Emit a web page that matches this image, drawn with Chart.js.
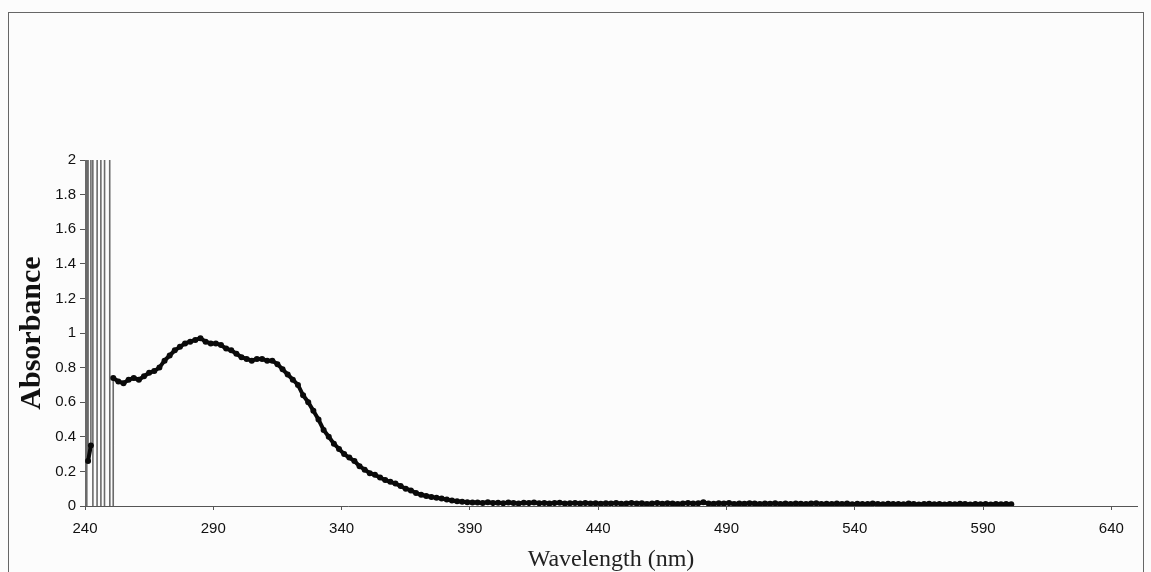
<!DOCTYPE html>
<html>
<head>
<meta charset="utf-8">
<script src="https://cdn.jsdelivr.net/npm/chart.js@4.4.1/dist/chart.umd.min.js"></script>
<style>
  html, body { margin: 0; padding: 0; background: #fcfcfc; }
  #wrap { position: relative; width: 1151px; height: 572px; overflow: hidden; }
  #frame { position: absolute; left: 8px; top: 12px; width: 1136px; height: 620px; border: 1px solid #666; box-sizing: border-box; }
  canvas { position: absolute; left: 0; top: 0; }
</style>
</head>
<body>
<div id="wrap">
  <div id="frame"></div>
  <canvas id="c" width="1151" height="572"></canvas>
</div>
<script>
// ---- data ----
// leading low-wavelength readings and off-scale (saturated) excursions
const leadX = [240.3, 240.35, 240.4, 241.0, 241.05, 241.2, 242.3, 242.35, 242.4, 243.8, 243.85, 245.6, 245.65, 246.8, 246.85, 248.4, 248.45, 250.95];
const leadY = [60, -60, -60, 60, 60, 0.26, 0.35, 60, 60, -60, -60, 60, 60, -60, -60, 60, 60, -60];
// main spectrum, sampled every 2 nm starting at 251 nm
const specStart = 251;
const specStep = 2;
const absorbance = [
  0.74, 0.72, 0.71, 0.73, 0.74, 0.73, 0.75, 0.77, 0.78, 0.80,
  0.84, 0.87, 0.90, 0.92, 0.94, 0.95, 0.96, 0.97, 0.95, 0.94,
  0.94, 0.93, 0.91, 0.90, 0.88, 0.86, 0.85, 0.84, 0.85, 0.85,
  0.84, 0.84, 0.82, 0.79, 0.76, 0.73, 0.70, 0.64, 0.60, 0.55,
  0.50, 0.44, 0.40, 0.36, 0.33, 0.30, 0.28, 0.26, 0.23, 0.21,
  0.19, 0.18, 0.165, 0.15, 0.14, 0.13, 0.115, 0.10, 0.09, 0.075,
  0.065, 0.058, 0.052, 0.047, 0.043, 0.037, 0.032, 0.028, 0.025, 0.022,
  0.02,
  0.02, 0.018, 0.021, 0.017, 0.019, 0.016, 0.02, 0.018, 0.015, 0.019,
  0.017, 0.02, 0.016, 0.018, 0.014, 0.017, 0.019, 0.015, 0.016, 0.018,
  0.014, 0.017, 0.015, 0.016, 0.013,
  0.016, 0.014, 0.017, 0.013, 0.015, 0.018, 0.014, 0.016, 0.012, 0.015,
  0.017, 0.013, 0.016, 0.014, 0.012, 0.015, 0.017, 0.014, 0.016, 0.021,
  0.015, 0.013, 0.016, 0.014, 0.017, 0.012, 0.015, 0.013, 0.016, 0.014,
  0.012, 0.015, 0.013, 0.016, 0.011, 0.014, 0.012, 0.015, 0.013, 0.011,
  0.014, 0.016, 0.012, 0.013, 0.011, 0.015, 0.012, 0.014, 0.01, 0.013,
  0.012, 0.011, 0.014, 0.012, 0.01,
  0.013, 0.011, 0.012, 0.01, 0.014, 0.011, 0.009, 0.012, 0.013, 0.01,
  0.011, 0.009, 0.012, 0.01, 0.013, 0.011, 0.009, 0.012, 0.01, 0.011,
  0.009, 0.012, 0.01, 0.011, 0.01
];
const xTicks = [240, 290, 340, 390, 440, 490, 540, 590, 640];
const yTicks = [0, 0.2, 0.4, 0.6, 0.8, 1, 1.2, 1.4, 1.6, 1.8, 2];
const yTickLabels = ['0', '0.2', '0.4', '0.6', '0.8', '1', '1.2', '1.4', '1.6', '1.8', '2'];
const xTitle = 'Wavelength (nm)';
const yTitle = 'Absorbance';

// ---- build points ----
const points = [];
leadX.forEach((x, i) => points.push({x: x, y: leadY[i]}));
absorbance.forEach((v, i) => points.push({x: specStart + i * specStep, y: v}));

const offScale = v => v > 2.05 || v < -0.05;

new Chart(document.getElementById('c'), {
  type: 'scatter',
  data: {
    datasets: [{
      data: points,
      showLine: true,
      borderColor: '#0a0a0a',
      borderWidth: 4,
      pointRadius: 3,
      pointBackgroundColor: '#0a0a0a',
      pointBorderWidth: 0,
      tension: 0,
      segment: {
        borderColor: ctx => (offScale(ctx.p0.parsed.y) || offScale(ctx.p1.parsed.y)) ? '#6a6a6a' : undefined,
        borderWidth: ctx => (offScale(ctx.p0.parsed.y) || offScale(ctx.p1.parsed.y)) ? 1.6 : undefined
      }
    }]
  },
  options: {
    responsive: false,
    animation: false,
    layout: { padding: { left: 8, top: 160, right: 14, bottom: 0 } },
    plugins: { legend: { display: false }, tooltip: { enabled: false } },
    scales: {
      x: {
        type: 'linear',
        min: 240,
        max: 650,
        afterFit: s => { s.height = 66; },
        afterBuildTicks: s => { s.ticks = xTicks.map(v => ({value: v})); },
        grid: { display: true, drawOnChartArea: false, drawTicks: true, tickLength: 4, color: '#555' },
        border: { display: true, color: '#555', width: 1 },
        ticks: { color: '#111', padding: 10, maxRotation: 0, font: { family: 'Liberation Sans', size: 15 } },
        title: { display: true, text: xTitle, color: '#222', padding: { top: 0, bottom: -2 }, font: { family: 'Liberation Serif', size: 24 } }
      },
      y: {
        type: 'linear',
        min: 0,
        max: 2,
        afterFit: s => { s.width = 77; },
        afterBuildTicks: s => { s.ticks = yTicks.map(v => ({value: v})); },
        grid: { display: true, drawOnChartArea: false, drawTicks: true, tickLength: 5, color: '#555' },
        border: { display: true, color: '#555', width: 1 },
        ticks: {
          color: '#111', padding: 4,
          font: { family: 'Liberation Sans', size: 15 },
          callback: (v, i) => yTickLabels[i]
        },
        title: { display: true, text: yTitle, color: '#111', padding: { top: 6, bottom: 0 }, font: { family: 'Liberation Serif', size: 30, weight: 'bold' } }
      }
    }
  }
});
</script>
</body>
</html>
